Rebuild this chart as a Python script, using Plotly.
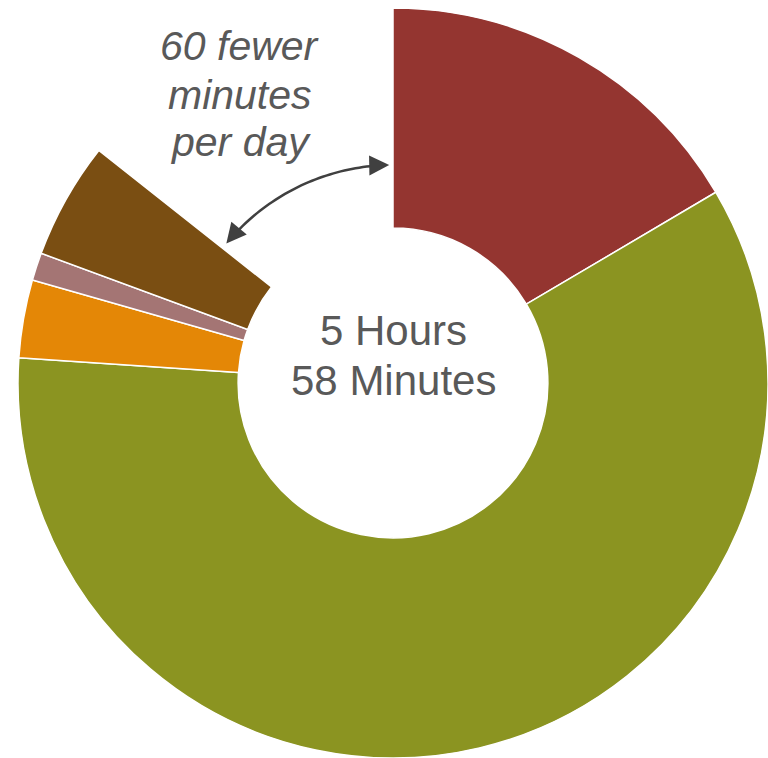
import math
import plotly.graph_objects as go

W, H = 768, 758

# Data (minutes per day)
categories = ["Red", "Olive", "Orange", "Pink", "Brown", "Gap"]
minutes = [69, 249, 14, 5, 21, 60]
colors = ["#943530", "#8B9421", "#E48706", "#A47574", "#7A4E12", "rgba(0,0,0,0)"]
line_widths = [1.5, 1.5, 1.5, 1.5, 1.5, 0]
center_lines = ["5 Hours", "58 Minutes"]
note_lines = ["60 fewer", "minutes", "per day"]

# Layout in pixels
cx, cy, R = 393, 383, 375

def px(x):
    return x / W

def py(y):
    return (H - y) / H

fig = go.Figure(go.Pie(
    labels=categories,
    values=minutes,
    sort=False,
    direction="clockwise",
    rotation=0,
    hole=0.413,
    marker=dict(colors=colors, line=dict(color="white", width=line_widths)),
    textinfo="none",
    hoverinfo="skip",
    showlegend=False,
    domain=dict(x=[max(0, px(cx - R)), min(1, px(cx + R))],
                y=[max(0, py(cy + R)), min(1, py(cy - R))]),
))

annotations = []
# center text
for txt, yc in zip(center_lines, [330, 380]):
    annotations.append(dict(text=txt, x=px(cx), y=py(yc), xref="paper", yref="paper",
                            showarrow=False, xanchor="center", yanchor="middle",
                            font=dict(family="Liberation Sans, Arial", size=42, color="#595959")))
# italic note
for txt, yc in zip(note_lines, [46, 95, 142]):
    annotations.append(dict(text="<i>" + txt + "</i>", x=px(240), y=py(yc), xref="paper", yref="paper",
                            showarrow=False, xanchor="center", yanchor="middle",
                            font=dict(family="Liberation Sans, Arial", size=41, color="#595959")))

# curved double-headed arrow around the gap
acx, acy, r_arc = 393, 381, 216
def arc_pt(deg):
    t = math.radians(deg)
    return acx + r_arc * math.sin(t), acy - r_arc * math.cos(t)

a0, a1 = -46.0, -6.0
pts = [arc_pt(a0 + (a1 - a0) * i / 40) for i in range(41)]
path = "M " + " L ".join(f"{px(x):.5f},{py(y):.5f}" for x, y in pts)
fig.add_shape(type="path", path=path, xref="paper", yref="paper",
              line=dict(color="#404040", width=2.5))

L = 18
for deg, sign in [(-1.0, -1), (-50.5, 1)]:
    hx, hy = arc_pt(deg)
    t = math.radians(deg)
    annotations.append(dict(x=px(hx), y=py(hy), xref="paper", yref="paper", text="",
                            showarrow=True, arrowhead=2, arrowsize=1.6, arrowwidth=2.5,
                            arrowcolor="#404040",
                            ax=sign * L * math.cos(t), ay=sign * L * math.sin(t)))

fig.update_layout(
    width=W, height=H,
    margin=dict(l=0, r=0, t=0, b=0),
    paper_bgcolor="white", plot_bgcolor="white",
    annotations=annotations,
)

fig.write_html("out.html")
